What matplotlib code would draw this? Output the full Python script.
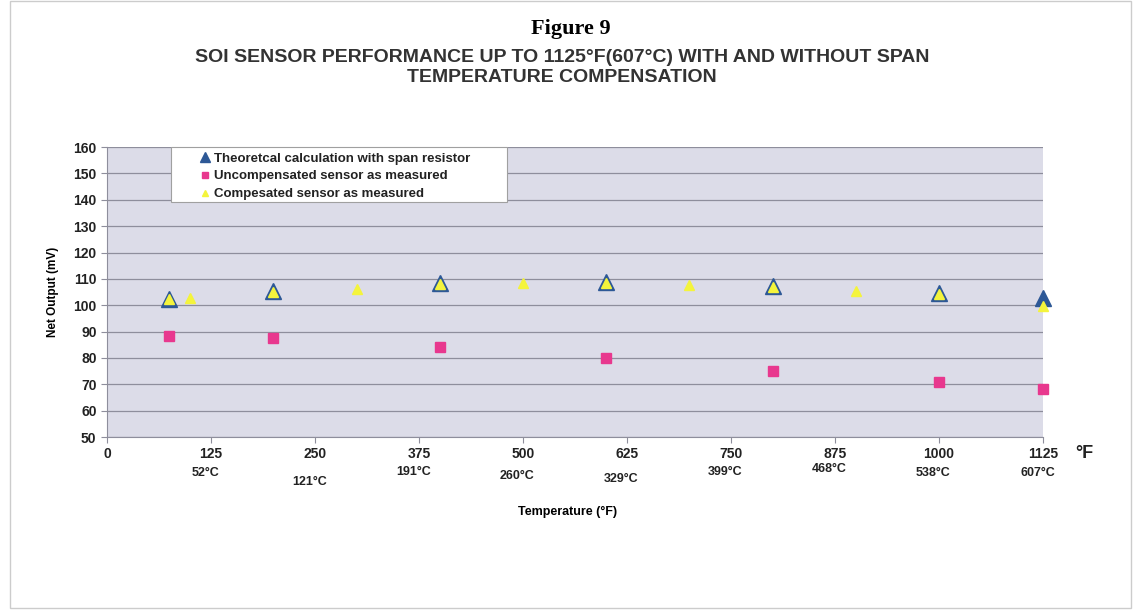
import matplotlib
matplotlib.use("Agg")
import matplotlib.pyplot as plt
from matplotlib.patches import Rectangle

plt.rcParams['font.family'] = ['Liberation Sans', 'DejaVu Sans']

# data
theo_f = [75, 200, 400, 600, 800, 1000, 1125]
theo_mv = [102.4, 105.3, 108.3, 108.7, 107.2, 104.6, 102.6]

uncomp_f = [75, 200, 400, 600, 800, 1000, 1125]
uncomp_mv = [88.5, 87.4, 84.1, 79.9, 75.0, 70.8, 68.2]

comp_f = [75, 100, 200, 300, 400, 500, 600, 700, 800, 900, 1000, 1125]
comp_mv = [102.2, 102.8, 105.1, 106.1, 108.1, 108.4, 108.5, 107.7, 107.0, 105.4, 104.4, 99.7]

f_ticks = [0, 125, 250, 375, 500, 625, 750, 875, 1000, 1125]
c_labels = ["52°C", "121°C", "191°C", "260°C", "329°C", "399°C", "468°C", "538°C", "607°C"]

blue = '#2d5896'
pink = '#e8388e'
yellow = '#f4f43c'

fig = plt.figure(figsize=(11.38, 6.13), dpi=100)
ax = fig.add_axes([0.094, 0.287, 0.8225, 0.473])
ax.set_facecolor('#dcdce8')

ax.plot(theo_f, theo_mv, '^', color=blue, ms=11.5, ls='none', clip_on=False,
        label='Theoretcal calculation with span resistor', zorder=3)
ax.plot(uncomp_f, uncomp_mv, 's', color=pink, ms=6.5, ls='none', clip_on=False,
        label='Uncompensated sensor as measured', zorder=3)
ax.plot(comp_f, comp_mv, '^', color=yellow, ms=6.5, ls='none', clip_on=False,
        label='Compesated sensor as measured', zorder=4)

ax.set_xlim(0, 1125)
ax.set_ylim(50, 160)
ax.set_yticks(range(50, 161, 10))
ax.set_xticks(f_ticks)
ax.grid(axis='y', color='#8e8e9c', lw=0.9)
ax.set_axisbelow(True)
for s in ['top', 'right']:
    ax.spines[s].set_visible(False)
ax.spines['left'].set_color('#8e8e9c')
ax.spines['bottom'].set_color('#8e8e9c')
ax.tick_params(axis='y', labelsize=10, length=4, color='#8e8e9c')
ax.tick_params(axis='x', labelsize=10, length=4, color='#8e8e9c', pad=3)
for lab in ax.get_xticklabels() + ax.get_yticklabels():
    lab.set_fontweight('bold')
    lab.set_color('#222222')

# Celsius labels under the Fahrenheit ticks
c_dy = [0, 6, -1, 2, 4, -1, -3, 0, 0]
for f, c, dy in zip(f_ticks[1:], c_labels, c_dy):
    ax.annotate(c, xy=(f, 0), xycoords=('data', 'axes fraction'),
                xytext=(-4, -26 - dy), textcoords='offset points',
                ha='center', va='center', fontsize=9, fontweight='bold',
                color='#222222')
ax.annotate('°F', xy=(1, 0), xycoords='axes fraction', xytext=(30, -12),
            textcoords='offset points', ha='center', va='center',
            fontsize=13, fontweight='bold', color='#222222')

ax.set_ylabel('Net Output (mV)', fontsize=8.5, fontweight='bold', labelpad=10)
fig.text(0.499, 0.165, 'Temperature (°F)', ha='center', va='center',
         fontsize=9, fontweight='bold')

# legend box is wider than its contents in the original
ax.add_patch(Rectangle((0.068, 0.81), 0.359, 0.19, transform=ax.transAxes,
                       facecolor='white', edgecolor='#a0a0a0', lw=0.8,
                       zorder=4.5, clip_on=False))
leg = ax.legend(loc='upper left', bbox_to_anchor=(0.1, 0.982), fontsize=9.5,
                frameon=False, borderpad=0, labelspacing=0.42,
                handlelength=0.7, handletextpad=0.3, borderaxespad=0, numpoints=1,
                markerscale=0.65)
leg.set_zorder(5)
for t in leg.get_texts():
    t.set_fontweight('bold')
    t.set_color('#222222')

fig.text(0.502, 0.952, 'Figure 9', ha='center', va='center', fontsize=16,
         fontweight='bold', family='Liberation Serif')
fig.text(0.494, 0.906, 'SOI SENSOR PERFORMANCE UP TO 1125°F(607°C) WITH AND WITHOUT SPAN',
         ha='center', va='center', fontsize=14, fontweight='bold', color='#333333')
fig.text(0.494, 0.874, 'TEMPERATURE COMPENSATION',
         ha='center', va='center', fontsize=14, fontweight='bold', color='#333333')

# thin frame around the page
fig.patches.append(Rectangle((0.009, 0.008), 0.985, 0.99, transform=fig.transFigure,
                             fill=False, edgecolor='#cccccc', lw=1))

fig.savefig('out.png', dpi=100)
